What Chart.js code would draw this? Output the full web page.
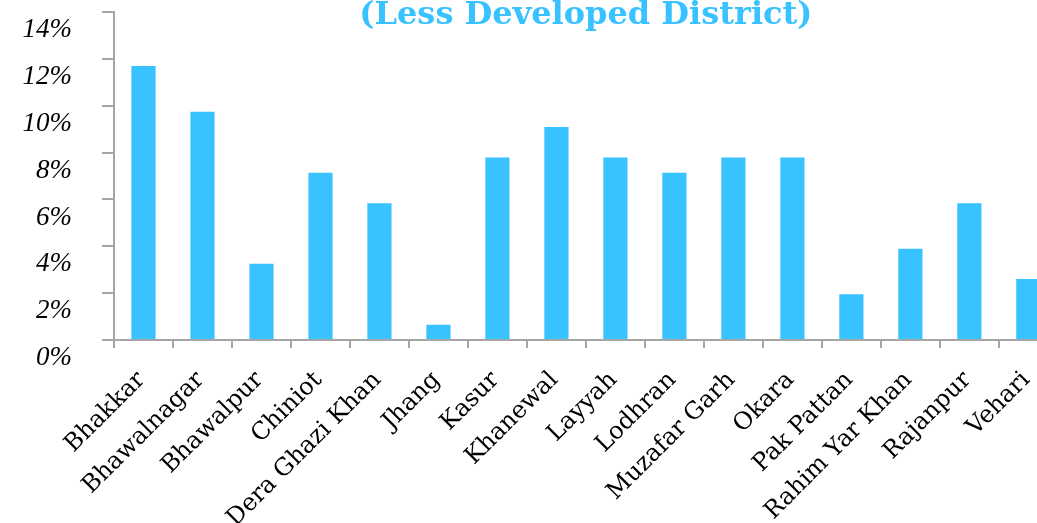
<!DOCTYPE html>
<html>
<head>
<meta charset="utf-8">
<script src="https://cdn.jsdelivr.net/npm/chart.js@4.4.1/dist/chart.umd.min.js"></script>
<style>
  html, body { margin: 0; padding: 0; overflow: hidden; background: #ffffff; width: 1037px; height: 523px; }
  #wrap { position: absolute; left: 0; top: 0; width: 1067px; height: 523px; }
  canvas { display: block; }
</style>
</head>
<body>
<div id="wrap"><canvas id="c" width="1067" height="523"></canvas></div>
<script>
const titleText = '(Less Developed District)';
const districts = ['Bhakkar', 'Bhawalnagar', 'Bhawalpur', 'Chiniot', 'Dera Ghazi Khan', 'Jhang', 'Kasur', 'Khanewal',
  'Layyah', 'Lodhran', 'Muzafar Garh', 'Okara', 'Pak Pattan', 'Rahim Yar Khan', 'Rajanpur', 'Vehari'];
const shares = [11.69, 9.74, 3.25, 7.14, 5.84, 0.65, 7.79, 9.09, 7.79, 7.14, 7.79, 7.79, 1.95, 3.90, 5.84, 2.60];
const yTickValues = [0, 2, 4, 6, 8, 10, 12, 14];
const yTickLabels = ['0%', '2%', '4%', '6%', '8%', '10%', '12%', '14%'];

const BAR = '#38C2FF';
const AXIS = '#A6A6A6';

new Chart(document.getElementById('c'), {
  type: 'bar',
  data: {
    labels: districts,
    datasets: [{
      data: shares,
      backgroundColor: BAR,
      borderWidth: 0,
      barPercentage: 0.41,
      categoryPercentage: 1.0
    }]
  },
  options: {
    responsive: false,
    animation: false,
    devicePixelRatio: 1,
    layout: { padding: { left: 0, right: 0, top: 0, bottom: 0 } },
    plugins: {
      legend: { display: false },
      tooltip: { enabled: false },
      title: {
        display: true,
        text: titleText,
        fullSize: false,
        color: BAR,
        font: { family: 'DejaVu Serif', weight: 'bold', size: 32, lineHeight: 1 },
        padding: { top: 0, bottom: -20 }
      }
    },
    scales: {
      x: {
        afterFit: (s) => { s.height = 183; },
        grid: { offset: true, drawOnChartArea: false, drawTicks: true, tickLength: 8, color: AXIS, lineWidth: 2 },
        border: { display: true, color: AXIS, width: 2 },
        ticks: {
          autoSkip: false,
          minRotation: 45,
          maxRotation: 45,
          padding: 18,
          labelOffset: -2,
          color: '#000000',
          font: { family: 'DejaVu Serif', size: 24 }
        }
      },
      y: {
        min: 0,
        max: 14,
        afterFit: (s) => { s.width = 114; s.paddingTop = 0; s.paddingBottom = 0; },
        afterBuildTicks: (s) => { s.ticks = yTickValues.map(v => ({ value: v })); },
        grid: { drawOnChartArea: false, drawTicks: true, tickLength: 12, color: AXIS, lineWidth: 2 },
        border: { display: true, color: AXIS, width: 2 },
        ticks: {
          padding: 30,
          labelOffset: 18,
          color: '#000000',
          font: { family: 'Liberation Serif', style: 'italic', size: 27 },
          callback: (v) => yTickLabels[yTickValues.indexOf(v)]
        }
      }
    }
  }
});
</script>
</body>
</html>
